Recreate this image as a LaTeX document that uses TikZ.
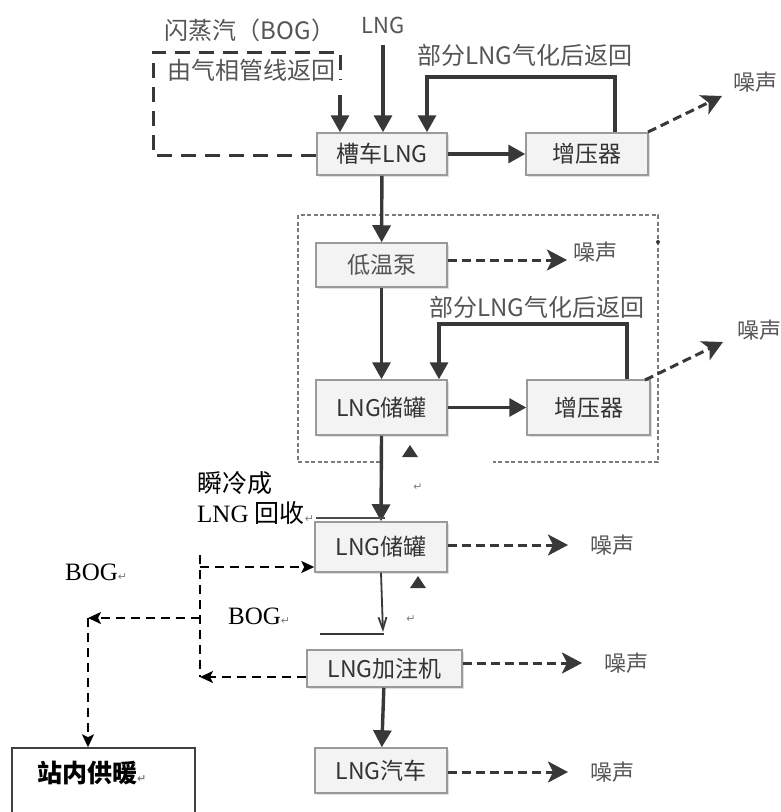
\documentclass[tikz,border=0pt]{standalone}
\usepackage{fontspec}
\setmainfont{Liberation Serif}
\newfontfamily\cjk{Noto Sans CJK SC}
\newfontfamily\symf{DejaVu Sans}
\usetikzlibrary{arrows.meta,shadows}
\definecolor{ln}{HTML}{383838}
\definecolor{bx}{HTML}{9A9A9A}
\definecolor{bf}{HTML}{F3F3F3}
\definecolor{tx}{HTML}{333333}
\definecolor{lt}{HTML}{555555}
\newcommand{\parmark}{{\symf\fontsize{11}{11}\selectfont\textcolor{gray}{↵}}}
\begin{document}
\begin{tikzpicture}[x=1pt,y=-1pt,
  box/.style={draw=bx, fill=bf, line width=1.5pt, inner sep=0pt,
    drop shadow={shadow xshift=2pt, shadow yshift=-2pt, opacity=0.25},
    font=\cjk\fontsize{23}{26}\selectfont, text=tx},
  mainarr/.style={draw=ln, line width=3.4pt, -{Triangle[length=17pt,width=18pt]}},
  noisearr/.style={draw=ln, line width=3pt, dash pattern=on 9pt off 5pt,
    -{Stealth[length=20pt,width=21pt,inset=5pt]}},
  bogarr/.style={draw=black, line width=2pt, dash pattern=on 9pt off 6pt,
    -{Stealth[length=13pt,width=12pt,inset=3pt]}},
  bogln/.style={draw=black, line width=2pt, dash pattern=on 9pt off 6pt},
  lbl/.style={font=\cjk\fontsize{24}{27}\selectfont, text=lt, inner sep=0pt},
  noise/.style={font=\cjk\fontsize{22}{24}\selectfont, text=lt, inner sep=0pt, anchor=west},
  ser/.style={font=\fontsize{25}{28}\selectfont, text=black, inner sep=0pt, anchor=west}
]
\useasboundingbox (0,0) rectangle (781,812);

% boxes
\node[box, minimum width=130pt, minimum height=42pt] (tank) at (382,154) {槽车LNG};
\node[box, minimum width=122pt, minimum height=42pt] (boostA) at (587,154) {增压器};
\node[box, minimum width=131pt, minimum height=44pt, text=lt] (pump) at (381.5,265) {低温泵};
\node[box, minimum width=131pt, minimum height=55pt] (storeA) at (381.5,407.5) {LNG储罐};
\node[box, minimum width=123pt, minimum height=55pt] (boostB) at (588.5,407.5) {增压器};
\node[box, minimum width=132pt, minimum height=50pt] (storeB) at (381,547) {LNG储罐};
\node[box, minimum width=155pt, minimum height=37pt] (disp) at (384.5,668.5) {LNG加注机};
\node[box, minimum width=132pt, minimum height=45pt] (car) at (381,770.5) {LNG汽车};
\node[draw=black!75, line width=1.5pt, minimum width=183pt, minimum height=80pt, inner sep=0pt] (heat) at (103.5,788) {};
\node[anchor=west, inner sep=0pt, font=\cjk\fontsize{25}{28}\selectfont\bfseries] (heattxt) at (37,773) {站内供暖\parmark};

% dashed enclosure
\draw[bx!80!black, line width=1.5pt, dash pattern=on 4pt off 2.5pt]
  (380,462) -- (298,462) -- (298,215) -- (658,215) -- (658,462) -- (493,462);
\fill[ln] (658,242) circle (2pt);

% top labels
\node[lbl, font=\cjk\fontsize{22}{24}\selectfont] (lng) at (383,25) {LNG};
\node[lbl] (bogA) at (250,30) {闪蒸汽（BOG）};
\node[lbl] (bogB) at (251,70) {由气相管线返回};
\node[lbl] (retA) at (525,55) {部分LNG气化后返回};
\node[lbl] (retB) at (537,307) {部分LNG气化后返回};

% top flows
\coordinate (lngs) at (383,45);
\draw[mainarr] (lngs) -- (tank.north -| lngs);
\coordinate (bc1) at (153,155);
\coordinate (bc2) at (153,52);
\coordinate (bc3) at (340,52);
\coordinate (bc4) at (340,95);
\draw[ln, line width=3pt, dash pattern=on 15pt off 9pt] (tank.west |- bc1) -- (bc1) -- (bc2) -- (bc3) -- (340,80);
\draw[mainarr] (bc4) -- (tank.north -| bc4);
\draw[mainarr] (tank) -- (boostA);
\coordinate (la1) at (615,77);
\coordinate (la2) at (427,77);
\draw[mainarr] (boostA.north -| la1) -- (la1) -- (la2) -- (tank.north -| la2);
\coordinate (na) at (722,96);
\draw[noisearr] (648,132) -- (na);
\node[noise] (noiseA) at (733,82) {噪声};

% middle
\draw[mainarr] (tank) -- (pump);
\coordinate (nb) at (567,260);
\draw[noisearr] (pump.east |- nb) -- (nb);
\node[noise] (noiseB) at (573,252) {噪声};
\draw[mainarr] (pump) -- (storeA);
\draw[mainarr] (storeA) -- (boostB);
\coordinate (lb1) at (627,324);
\coordinate (lb2) at (439,324);
\draw[mainarr] (boostB.north -| lb1) -- (lb1) -- (lb2) -- (storeA.north -| lb2);
\coordinate (nc) at (723,342);
\draw[noisearr] (645,380) -- (nc);
\node[noise] (noiseC) at (737,330) {噪声};
\fill[ln] (410,445) -- (418,457) -- (402,457) -- cycle;

% lower
\draw[mainarr] (storeA.south) -- (storeB.north);
\node[ser] (flash1) at (197,483) {\cjk 瞬冷成};
\node[ser] (flash2) at (197,513) {LNG \cjk 回收\parmark};
\draw[black!70, line width=1.2pt] (flash2.east) ++(2,5) -- (385,518);
\node[inner sep=0pt] (pmA) at (418,487) {\parmark};
\coordinate (nd) at (568,545);
\draw[noisearr] (storeB.east |- nd) -- (nd);
\node[noise] (noiseD) at (590,545) {噪声};
\fill[ln] (418,576) -- (426,588) -- (410,588) -- cycle;
\coordinate (ds) at (383,632);
\draw[ln, line width=1.8pt, -{Straight Barb[length=12pt,width=8pt]}] (storeB.south) -- (ds);
\draw[ln, line width=1.4pt] (320,634) -- (384,634);
\node[inner sep=0pt] (pmB) at (411,619) {\parmark};
\node[ser] (bogC) at (228,616) {BOG\parmark};
\coordinate (ne) at (582,663);
\draw[noisearr] (disp.east |- ne) -- (ne);
\node[noise] (noiseE) at (604,663) {噪声};
\draw[mainarr] (disp) -- (car);
\coordinate (nf) at (568,772);
\draw[noisearr] (car.east |- nf) -- (nf);
\node[noise] (noiseF) at (590,772) {噪声};

% BOG left
\coordinate (v1) at (200,555);
\coordinate (v2) at (200,567);
\coordinate (v3) at (200,618);
\coordinate (v4) at (200,677);
\coordinate (h1) at (88,618);
\draw[bogln] (v1) -- (v4);
\draw[bogarr] (v2) -- (storeB.west |- v2);
\draw[bogarr] (disp.west |- v4) -- (v4);
\draw[bogarr] (v3) -- (h1);
\draw[bogarr] (h1) -- (heat.north -| h1);
\node[ser] (bogL) at (65,572) {BOG\parmark};
\end{tikzpicture}
\end{document}
